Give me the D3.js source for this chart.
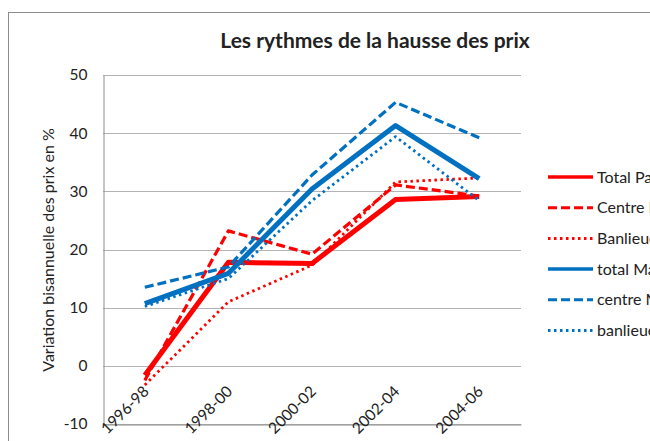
<!DOCTYPE html>
<html>
<head>
<meta charset="utf-8">
<script src="https://cdn.jsdelivr.net/npm/d3@7"></script>
<style>
  body { margin: 0; background: #fff; }
  svg text { font-family: Lato, "Open Sans", sans-serif; fill: #222; }
</style>
</head>
<body>
<div id="chart"></div>
<script>
// periods on the x axis
var periods = ['1996-98', '1998-00', '2000-02', '2002-04', '2004-06'];

// values (variation in %)
var totalParis      = [-1.6, 17.8, 17.6, 28.6, 29.1];
var centreParis     = [-2.5, 23.2, 19.2, 31.1, 29.2];
var banlieueParis   = [-3.3, 11.0, 17.3, 31.6, 32.3];
var totalMarseille  = [10.7, 15.9, 30.4, 41.3, 32.2];
var centreMarseille = [13.5, 17.0, 32.8, 45.3, 39.2];
var banlieueMarseille = [10.2, 15.0, 28.4, 39.4, 28.4];

var yTicks = [-10, 0, 10, 20, 30, 40, 50];

var seriesNames = ['Total Paris', 'Centre Paris', 'Banlieue Paris',
    'total Marseille', 'centre Marseille', 'banlieue Marseille'];
var seriesValues = [totalParis, centreParis, banlieueParis,
    totalMarseille, centreMarseille, banlieueMarseille];

var red = '#ff0000', blue = '#0070c0';
var styles = [
    { color: red, width: 5, dash: null },
    { color: red, width: 3.2, dash: '9,4' },
    { color: red, width: 2.8, dash: '2.5,3.5' },
    { color: blue, width: 5, dash: null },
    { color: blue, width: 3.2, dash: '9,4' },
    { color: blue, width: 2.8, dash: '2.5,3.5' }
];

var width = 650, height = 441;
var plotLeft = 103, plotRight = 521, plotTop = 75, plotBottom = 424;

var svg = d3.select('#chart').append('svg')
    .attr('width', width)
    .attr('height', height);

// outer chart frame
svg.append('rect')
    .attr('x', 8.5).attr('y', 12.5)
    .attr('width', 700).attr('height', 500)
    .attr('fill', 'none')
    .attr('stroke', '#8c8c8c')
    .attr('stroke-width', 1);

var xScale = d3.scaleBand()
    .domain(periods)
    .range([plotLeft, plotRight]);

var yScale = d3.scaleLinear()
    .domain([-10, 50])
    .range([plotBottom, plotTop]);

// gridlines
svg.append('g').selectAll('line')
    .data(yTicks)
    .enter()
    .append('line')
    .attr('x1', plotLeft).attr('x2', plotRight)
    .attr('y1', function (d) { return Math.round(yScale(d)) + 0.5; })
    .attr('y2', function (d) { return Math.round(yScale(d)) + 0.5; })
    .attr('stroke', '#b3b3b3')
    .attr('stroke-width', 1);

// y axis
var yAxis = d3.axisLeft(yScale)
    .tickValues(yTicks)
    .tickFormat(function (d) { return String(d); })
    .tickSize(0)
    .tickPadding(16);
var yG = svg.append('g')
    .attr('transform', 'translate(' + (plotLeft + 0.5) + ',0)')
    .call(yAxis);
yG.select('.domain').attr('stroke', '#8c8c8c');
yG.selectAll('text').style('font-size', '15.5px').attr('fill', '#222');

// x axis at bottom (-10)
var xAxis = d3.axisBottom(xScale).tickSize(0).tickPadding(0);
var xG = svg.append('g')
    .attr('transform', 'translate(0,' + (Math.round(plotBottom) + 0.5) + ')')
    .call(xAxis);
xG.select('.domain').attr('stroke', '#8c8c8c');
xG.selectAll('text')
    .style('font-size', '15.5px')
    .attr('fill', '#222')
    .attr('text-anchor', 'end')
    .attr('dy', null)
    .attr('y', 0)
    .attr('transform', 'translate(5,-32) rotate(-45)');

// lines
var line = d3.line()
    .x(function (d, i) { return xScale(periods[i]) + xScale.bandwidth() / 2; })
    .y(function (d) { return yScale(d); });

seriesValues.forEach(function (vals, k) {
    var s = styles[k];
    svg.append('path')
        .datum(vals)
        .attr('d', line)
        .attr('fill', 'none')
        .attr('stroke', s.color)
        .attr('stroke-width', s.width)
        .attr('stroke-linejoin', 'round')
        .attr('stroke-dasharray', s.dash);
});

// title
svg.append('text')
    .attr('x', 375).attr('y', 48)
    .attr('text-anchor', 'middle')
    .style('font-size', '21px')
    .style('font-weight', 'bold')
    .attr('fill', '#000')
    .text('Les rythmes de la hausse des prix');

// y axis title
svg.append('text')
    .attr('transform', 'translate(54,' + 250 + ') rotate(-90)')
    .attr('text-anchor', 'middle')
    .style('font-size', '16px')
    .attr('fill', '#000')
    .text('Variation bisannuelle des prix en %');

// legend
var legend = svg.append('g');
seriesNames.forEach(function (name, k) {
    var s = styles[k];
    var y = 177 + k * 30.7;
    legend.append('line')
        .attr('x1', 548).attr('x2', 593)
        .attr('y1', y).attr('y2', y)
        .attr('stroke', s.color)
        .attr('stroke-width', s.width === 5 ? 3.5 : 3)
        .attr('stroke-dasharray', s.dash);
    legend.append('text')
        .attr('x', 597).attr('y', y + 5.5)
        .style('font-size', '16px')
        .attr('fill', '#222')
        .text(name);
});
</script>
</body>
</html>
